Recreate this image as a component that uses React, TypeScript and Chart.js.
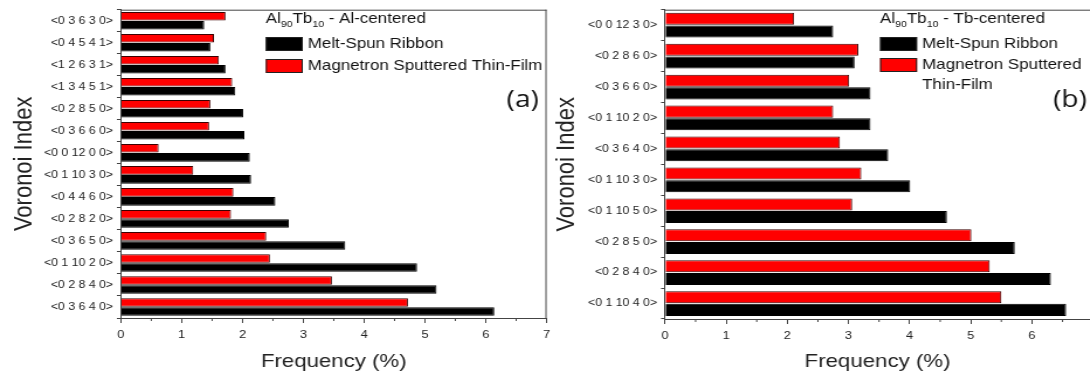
import React, { useEffect, useRef } from 'react';
import { Chart, registerables } from 'chart.js';

Chart.register(...registerables);

// horizontal stretch of the original figure (text looks widened)
const S = 1.17;
const FONT = '"Liberation Sans", Arial, sans-serif';

// ---------- Data: panel (a) Al-centered ----------
const categoriesA = [
  '<0 3 6 3 0>', '<0 4 5 4 1>', '<1 2 6 3 1>', '<1 3 4 5 1>', '<0 2 8 5 0>',
  '<0 3 6 6 0>', '<0 0 12 0 0>', '<0 1 10 3 0>', '<0 4 4 6 0>', '<0 2 8 2 0>',
  '<0 3 6 5 0>', '<0 1 10 2 0>', '<0 2 8 4 0>', '<0 3 6 4 0>',
];
const ribbonA = [1.37, 1.47, 1.72, 1.88, 2.01, 2.03, 2.12, 2.14, 2.54, 2.76, 3.69, 4.87, 5.19, 6.14];
const filmA = [1.72, 1.53, 1.61, 1.83, 1.47, 1.45, 0.62, 1.19, 1.85, 1.81, 2.39, 2.45, 3.47, 4.72];

// ---------- Data: panel (b) Tb-centered ----------
const categoriesB = [
  '<0 0 12 3 0>', '<0 2 8 6 0>', '<0 3 6 6 0>', '<0 1 10 2 0>', '<0 3 6 4 0>',
  '<0 1 10 3 0>', '<0 1 10 5 0>', '<0 2 8 5 0>', '<0 2 8 4 0>', '<0 1 10 4 0>',
];
const ribbonB = [2.75, 3.10, 3.36, 3.36, 3.65, 4.01, 4.61, 5.72, 6.31, 6.56];
const filmB = [2.11, 3.16, 3.01, 2.75, 2.86, 3.21, 3.06, 5.01, 5.31, 5.50];

const seriesNames = ['Melt-Spun Ribbon', 'Magnetron Sputtered Thin-Film'];
const xAxisTitle = 'Frequency (%)';
const yAxisTitle = 'Voronoi Index';

type Panel = {
  left: number;
  width: number;
  plotLeft: number;
  plotRight: number;
  plotTop: number;
  plotBottom: number;
  xMax: number;
  labels: string[];
  ribbon: number[];
  film: number[];
  yTitleCenter: number;
  frameRight: boolean;
  center: string;
  tag: string;
  legendX: number;
  legendTitleY: number;
  rowYs: number[];
  textLines: string[][];
  tagX: number;
};

const panels: Panel[] = [
  {
    left: 0, width: 560, plotLeft: 121, plotRight: 547, plotTop: 5, plotBottom: 318,
    xMax: 7, labels: categoriesA, ribbon: ribbonA, film: filmA, yTitleCenter: 24,
    frameRight: true, center: ' - Al-centered', tag: '(a)', legendX: 266, legendTitleY: 23,
    rowYs: [44, 66], textLines: [[seriesNames[0]], [seriesNames[1]]], tagX: 507,
  },
  {
    left: 540, width: 550, plotLeft: 665, plotRight: 1090, plotTop: 5, plotBottom: 319,
    xMax: 6.95, labels: categoriesB, ribbon: ribbonB, film: filmB, yTitleCenter: 26.7,
    frameRight: false, center: ' - Tb-centered', tag: '(b)', legendX: 880, legendTitleY: 23,
    rowYs: [44, 65], textLines: [[seriesNames[0]], ['Magnetron Sputtered', 'Thin-Film']], tagX: 1053,
  },
];

function makeChart(canvas: HTMLCanvasElement, p: Panel) {
  const lw = Math.round(p.width / S);
  canvas.width = lw;
  canvas.height = 380;
  canvas.style.width = `${lw * S}px`;
  canvas.style.height = '380px';
  const L = (dx: number) => (dx - p.left) / S;
  const yw = L(p.plotLeft);
  const padR = Math.max(0, lw - L(p.plotRight));

  const decor = {
    id: 'decor',
    afterDraw(chart: any) {
      const ctx = chart.ctx as CanvasRenderingContext2D;
      const { left, right, top, bottom } = chart.chartArea;
      ctx.save();
      ctx.strokeStyle = '#444';
      ctx.lineWidth = 1;
      ctx.beginPath();
      ctx.moveTo(left, top + 0.5);
      ctx.lineTo(right, top + 0.5);
      if (p.frameRight) {
        ctx.moveTo(right - 0.5, top);
        ctx.lineTo(right - 0.5, bottom);
      }
      // minor ticks
      const xs = chart.scales.x;
      for (let v = 0.5; v < p.xMax; v += 1) {
        const px = xs.getPixelForValue(v);
        ctx.moveTo(px, bottom);
        ctx.lineTo(px, bottom + 3);
      }
      ctx.stroke();

      // legend title with subscripts
      const lx = L(p.legendX);
      let x = lx;
      const parts: [string, boolean][] = [['Al', false], ['90', true], ['Tb', false], ['10', true], [p.center, false]];
      ctx.fillStyle = '#111';
      ctx.textBaseline = 'alphabetic';
      ctx.textAlign = 'left';
      for (const [t, sub] of parts) {
        ctx.font = sub ? `9px ${FONT}` : `14.5px ${FONT}`;
        ctx.fillText(t, x, p.legendTitleY + (sub ? 4 : 0));
        x += ctx.measureText(t).width;
      }
      // legend rows
      const boxW = 37 / S;
      const colors = ['#000000', '#ff0000'];
      ctx.font = `14.5px ${FONT}`;
      ctx.textBaseline = 'middle';
      p.rowYs.forEach((ry, i) => {
        ctx.fillStyle = colors[i];
        ctx.fillRect(lx, ry - 7, boxW, 14);
        ctx.strokeStyle = '#222';
        ctx.strokeRect(lx + 0.5, ry - 6.5, boxW - 1, 13);
        ctx.fillStyle = '#111';
        p.textLines[i].forEach((line, j) => {
          ctx.fillText(line, lx + boxW + 5 / S, ry + j * 20);
        });
      });
      // panel tag
      ctx.font = `24px "Open Sans", ${FONT}`;
      ctx.fillStyle = '#111';
      ctx.fillText(p.tag, L(p.tagX), 100);
      ctx.restore();
    },
  };

  return new Chart(canvas, {
    type: 'bar',
    data: {
      labels: p.labels,
      datasets: [
        {
          label: seriesNames[1], data: p.film, backgroundColor: '#ff0000',
          borderColor: '#3c0000', borderWidth: 1, categoryPercentage: 0.82, barPercentage: 0.95,
        },
        {
          label: seriesNames[0], data: p.ribbon, backgroundColor: '#000000',
          borderColor: '#000000', borderWidth: 1, categoryPercentage: 0.82, barPercentage: 0.95,
        },
      ],
    },
    options: {
      indexAxis: 'y',
      responsive: false,
      animation: false,
      devicePixelRatio: 1,
      layout: { padding: { left: 0, right: padR, top: p.plotTop, bottom: 0 } },
      plugins: { legend: { display: false }, tooltip: { enabled: false } },
      scales: {
        x: {
          type: 'linear', min: 0, max: p.xMax, position: 'bottom',
          afterFit: (s: any) => { s.height = 380 - p.plotBottom; },
          afterBuildTicks: (s: any) => { s.ticks = s.ticks.filter((t: any) => Number.isInteger(t.value)); },
          ticks: { stepSize: 1, font: { family: FONT, size: 11 }, color: '#222', padding: 5, maxRotation: 0, autoSkip: false },
          grid: { drawOnChartArea: false, drawTicks: true, tickLength: 5, color: '#444' },
          border: { display: true, color: '#444' },
          title: { display: true, text: xAxisTitle, font: { family: FONT, size: 19 }, color: '#222', padding: { top: 0, bottom: 6.6 } },
        },
        y: {
          type: 'category',
          afterFit: (s: any) => { s.width = yw; },
          ticks: { font: { family: FONT, size: 10.5 }, color: '#222', padding: 3.4, autoSkip: false },
          grid: { drawOnChartArea: false, tickLength: 3.4, color: '#444', offset: true },
          border: { display: true, color: '#444' },
          title: {
            display: true, text: yAxisTitle, font: { family: FONT, size: 22 }, color: '#222',
            padding: { top: p.yTitleCenter / S - 13.2, bottom: 0 },
          },
        },
      },
    } as any,
    plugins: [decor],
  });
}

function PanelChart({ p }: { p: Panel }) {
  const ref = useRef<HTMLCanvasElement>(null);
  useEffect(() => {
    if (!ref.current) return;
    const c = makeChart(ref.current, p);
    return () => c.destroy();
  }, [p]);
  return <canvas ref={ref} style={{ position: 'absolute', left: p.left, top: 0 }} />;
}

export default function App() {
  return (
    <div style={{ position: 'fixed', left: 0, top: 0, width: 1090, height: 380, background: '#ffffff', overflow: 'hidden' }}>
      {panels.map((p, i) => <PanelChart key={i} p={p} />)}
    </div>
  );
}
